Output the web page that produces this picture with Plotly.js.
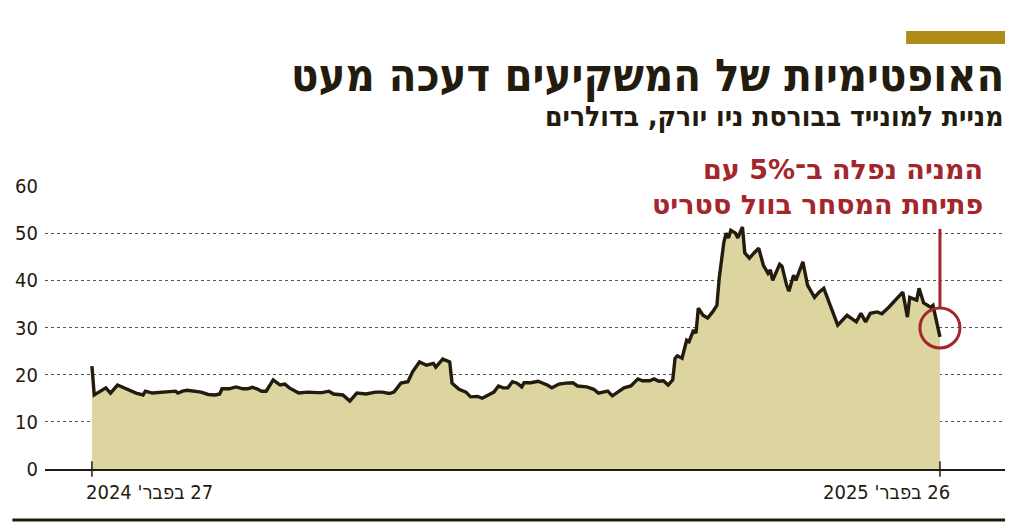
<!DOCTYPE html>
<html>
<head>
<meta charset="utf-8">
<script src="https://cdn.plot.ly/plotly-3.0.1.min.js"></script>
<style>
html,body{margin:0;padding:0;background:#fff;}
#chart{width:1024px;height:530px;}
</style>
</head>
<body>
<div id="chart"></div>
<script>
// Days since 27 Feb 2024 (trading points)
const days = [0,1,6,8,11,14,19,22,23,26,
30,34,36,37,39,41,44,47,50,53,
55,56,59,62,65,67,69,71,73,75,
78,81,83,85,89,93,97,99,102,104,
108,111,114,118,122,125,128,130,133,136,
138,141,144,147,148,151,154,155,158,161,
163,166,168,170,173,175,177,179,181,183,
185,186,189,192,194,196,198,201,204,207,
209,213,216,218,222,224,229,232,235,237,
240,242,244,246,248,250,251,252,254,255,
256,257,259,260,261,263,265,267,269,270,
272,273,274,275,277,278,280,281,283,285,
287,289,291,292,293,296,297,299,300,302,
303,306,308,311,313,315,318,321,325,329,
331,333,335,338,340,343,349,351,352,355,
356,358,361,362,365];

// Share price, USD
const prices = [21.8,15.7,17.2,16.1,17.8,17.2,16.1,15.7,16.5,16.1,
16.2,16.3,16.5,16.1,16.5,16.7,16.5,16.3,15.8,15.7,
15.9,17.0,17.0,17.4,17.0,17.0,17.3,17.0,16.5,16.5,
18.9,17.8,18.0,17.2,16.1,16.3,16.2,16.2,16.5,15.9,
15.7,14.4,16.1,15.9,16.3,16.3,16.0,16.3,18.2,18.5,
20.6,22.7,22.0,22.4,21.6,23.3,22.7,18.2,16.9,16.3,
15.3,15.4,15.0,15.6,16.3,17.6,17.2,17.2,18.5,18.2,
17.4,18.3,18.3,18.6,18.2,17.8,17.2,18.0,18.2,18.3,
17.6,17.4,16.9,16.1,16.5,15.5,17.2,17.6,19.1,18.7,
18.7,19.1,18.6,18.7,17.8,18.9,23.5,24.0,23.5,25.6,
27.3,27.0,29.5,28.8,34.1,32.6,32.0,33.2,34.7,40.5,
48.1,50.0,49.0,50.6,50.0,49.0,51.3,45.8,44.7,45.8,
46.8,43.2,41.5,42.2,40.0,43.4,43.0,39.0,37.7,41.1,
40.0,43.9,39.0,36.4,37.5,38.3,34.5,30.5,32.6,31.2,
33.0,31.2,33.0,33.3,32.9,34.3,37.5,32.2,36.4,35.8,
38.3,35.2,34.3,34.7,28.0];

const yTicks = [0,10,20,30,40,50,60];
const startLabel = "27 בפבר' 2024";
const endLabel = "26 בפבר' 2025";
const titleText = "האופטימיות של המשקיעים דעכה מעט";
const subtitleText = "מניית למונייד בבורסת ניו יורק, בדולרים";
const noteLines = ["המניה נפלה ב־5% עם", "פתיחת המסחר בוול סטריט"];

const RLE = "\u202B", PDF = "\u202C";
const rtl = s => RLE + s + PDF;

const FONT = "'DejaVu Sans Condensed', 'Liberation Sans Narrow', 'DejaVu Sans', sans-serif";
const NOTE_FONT = "'DejaVu Sans', sans-serif";
const DARK = "#231c0e";
const RED = "#a3262c";

const first = days[0], last = days[days.length-1];
const lastVal = prices[prices.length-1];

const trace = {
  x: days, y: prices, type: 'scatter', mode: 'lines',
  fill: 'tozeroy', fillcolor: '#ddd5a0',
  line: {color: DARK, width: 3.4, shape: 'linear'},
  hoverinfo: 'skip'
};

const layout = {
  width: 1024, height: 530,
  margin: {l: 45, r: 19, t: 186, b: 61},
  paper_bgcolor: '#fff', plot_bgcolor: '#fff',
  showlegend: false,
  font: {family: FONT, color: DARK},
  xaxis: {
    range: [-20.2, 393], showgrid: false, zeroline: false,
    showticklabels: false, ticks: '',
    showline: true, linecolor: DARK, linewidth: 2, fixedrange: true
  },
  yaxis: {
    range: [0, 60], tickvals: yTicks, ticktext: yTicks.map(String),
    showgrid: true, gridcolor: '#555', griddash: 'dot', gridwidth: 1,
    zeroline: false, showline: false, ticks: '',
    tickfont: {family: FONT, size: 20, color: DARK},
    ticklabelstandoff: 6, fixedrange: true
  },
  shapes: [
    {type: 'line', xref: 'x', yref: 'paper', x0: first, x1: first, y0: -0.027, y1: 0.027, line: {color: DARK, width: 1.5}},
    {type: 'line', xref: 'x', yref: 'paper', x0: last, x1: last, y0: -0.027, y1: 0.027, line: {color: DARK, width: 1.5}},
    {type: 'line', xref: 'x', yref: 'y', x0: last, x1: last, y0: 34.1, y1: 50.9, line: {color: RED, width: 3}},
    {type: 'circle', xref: 'x', yref: 'y', xsizemode: 'pixel', ysizemode: 'pixel',
     xanchor: last, yanchor: lastVal, x0: -20, x1: 20, y0: -11, y1: 29,
     line: {color: RED, width: 3}, fillcolor: 'rgba(0,0,0,0)'},
    {type: 'rect', xref: 'paper', yref: 'paper', x0: 0.897, x1: 1.0, y0: 1.502, y1: 1.548,
     line: {width: 0}, fillcolor: '#ae8a16'},
    {type: 'line', xref: 'paper', yref: 'paper', x0: -0.034, x1: 1.0, y0: -0.18, y1: -0.18,
     line: {color: DARK, width: 3}}
  ],
  annotations: [
    {xref: 'paper', yref: 'paper', x: 1.0, y: 1.39, xanchor: 'right', yanchor: 'middle',
     text: rtl(titleText), showarrow: false, align: 'right', borderpad: 0,
     font: {family: FONT, size: 45, color: DARK, weight: 'bold'}},
    {xref: 'paper', yref: 'paper', x: 1.0, y: 1.244, xanchor: 'right', yanchor: 'middle',
     text: rtl(subtitleText), showarrow: false, align: 'right', borderpad: 0,
     font: {family: FONT, size: 28, color: DARK, weight: 'bold'}},
    {xref: 'paper', yref: 'paper', x: 0.98, y: 1.125, xanchor: 'right', yanchor: 'top',
     text: noteLines.map(rtl).join('<br>'), showarrow: false, align: 'right',
     bgcolor: '#fff', borderpad: 2,
     font: {family: NOTE_FONT, size: 27, color: RED, weight: 'bold'}},
    {xref: 'x', yref: 'paper', x: first, y: 0, xanchor: 'left', yanchor: 'top', xshift: -8, yshift: -9,
     text: rtl(startLabel), showarrow: false,
     font: {family: FONT, size: 20, color: DARK}},
    {xref: 'x', yref: 'paper', x: last, y: 0, xanchor: 'right', yanchor: 'top', xshift: 12, yshift: -9,
     text: rtl(endLabel), showarrow: false,
     font: {family: FONT, size: 20, color: DARK}}
  ]
};

Plotly.newPlot('chart', [trace], layout, {staticPlot: true, displayModeBar: false});
</script>
</body>
</html>
